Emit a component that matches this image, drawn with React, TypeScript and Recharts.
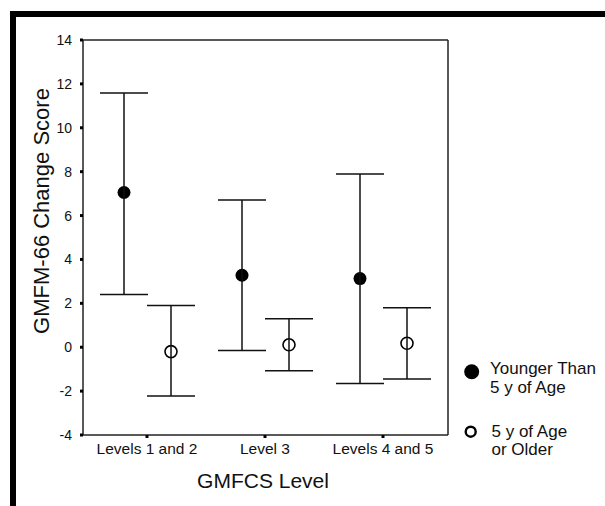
import React from 'react';
import { ComposedChart, Bar, ErrorBar, XAxis, YAxis, Legend, Label } from 'recharts';

const FONT = '"Liberation Sans", Arial, Helvetica, sans-serif';

const levels = ['Levels 1 and 2', 'Level 3', 'Levels 4 and 5'];
const youngerMean = [7.05, 3.28, 3.13];
const youngerLower = [2.4, -0.15, -1.65];
const youngerUpper = [11.58, 6.71, 7.89];
const olderMean = [-0.2, 0.11, 0.18];
const olderLower = [-2.22, -1.07, -1.45];
const olderUpper = [1.9, 1.3, 1.8];
const yTicks = [-4, -2, 0, 2, 4, 6, 8, 10, 12, 14];
const seriesNames = ['Younger Than 5 y of Age', '5 y of Age or Older'];
const legendLines = [
  ['Younger Than', '5 y of Age'],
  ['5 y of Age', 'or Older'],
];
const xTitle = 'GMFCS Level';
const yTitle = 'GMFM-66 Change Score';

const data = levels.map((level, i) => ({
  level,
  younger: youngerMean[i],
  youngerErr: [youngerMean[i] - youngerLower[i], youngerUpper[i] - youngerMean[i]],
  older: olderMean[i],
  olderErr: [olderMean[i] - olderLower[i], olderUpper[i] - olderMean[i]],
}));

const makeDot = (key: string, filled: boolean) => (props: any) => {
  const { x, y, width, height, payload } = props;
  if (x == null || y == null || !payload) return <g />;
  const v = payload[key];
  const h = height || 0;
  const cy = v >= 0 ? Math.min(y, y + h) : Math.max(y, y + h);
  const cx = x + width / 2;
  return filled ? (
    <circle cx={cx} cy={cy} r={6.5} fill="#000" />
  ) : (
    <circle cx={cx} cy={cy} r={6} fill="none" stroke="#000" strokeWidth={1.6} />
  );
};

const LegendContent = () => (
  <svg width={150} height={115} style={{ display: 'block' }}>
    <circle cx={16.7} cy={21.7} r={7.5} fill="#000" />
    <text x={35} y={24} fontSize={17} fontFamily={FONT} fill="#111">
      {legendLines[0][0]}
    </text>
    <text x={35} y={43} fontSize={17} fontFamily={FONT} fill="#111">
      {legendLines[0][1]}
    </text>
    <circle cx={15.7} cy={81.7} r={5} fill="none" stroke="#000" strokeWidth={2.4} />
    <text x={36.5} y={86.7} fontSize={17} fontFamily={FONT} fill="#111">
      {legendLines[1][0]}
    </text>
    <text x={36.5} y={105} fontSize={17} fontFamily={FONT} fill="#111">
      {legendLines[1][1]}
    </text>
  </svg>
);

export default function App() {
  return (
    <div style={{ position: 'absolute', left: 0, top: 0, width: 605, height: 506, background: '#fff' }}>
      <div style={{ position: 'absolute', left: 10, top: 11, width: 595, height: 6, background: '#000' }} />
      <div style={{ position: 'absolute', left: 10, top: 11, width: 6, height: 495, background: '#000' }} />
      <div style={{ position: 'absolute', left: 0, top: 0 }}>
        <ComposedChart
          width={605}
          height={506}
          data={data}
          margin={{ top: 39, right: 156, bottom: 41, left: 23 }}
          barSize={40}
          barGap={7}
        >
          <XAxis
            dataKey="level"
            type="category"
            padding={{ left: 5, right: 6 }}
            interval={0}
            height={30}
            tickSize={3}
            tickMargin={5}
            tickLine={{ stroke: '#000', strokeWidth: 3 }}
            axisLine={{ stroke: '#222', strokeWidth: 1.5 }}
            tick={{ fill: '#111', fontSize: 15.5, fontFamily: FONT }}
          >
            <Label
              content={() => (
                <text x={263} y={488} textAnchor="middle" fontSize={21} fontFamily={FONT} fill="#111">
                  {xTitle}
                </text>
              )}
            />
          </XAxis>
          <XAxis
            xAxisId="top"
            orientation="top"
            dataKey="level"
            type="category"
            height={1}
            tick={false}
            tickLine={false}
            axisLine={{ stroke: '#222', strokeWidth: 1.5 }}
          />
          <YAxis
            type="number"
            domain={[-4, 14]}
            ticks={yTicks}
            interval={0}
            width={60}
            tickSize={3}
            tickMargin={8}
            tickLine={{ stroke: '#000', strokeWidth: 3 }}
            axisLine={{ stroke: '#222', strokeWidth: 1.5 }}
            tick={{ fill: '#111', fontSize: 14, fontFamily: FONT }}
          >
            <Label
              content={() => (
                <text
                  x={41}
                  y={211}
                  transform="rotate(-90 41 211)"
                  textAnchor="middle"
                  dominantBaseline="central"
                  fontSize={22}
                  fontFamily={FONT}
                  fill="#111"
                >
                  {yTitle}
                </text>
              )}
            />
          </YAxis>
          <YAxis
            yAxisId="right"
            orientation="right"
            type="number"
            domain={[-4, 14]}
            width={1}
            tick={false}
            tickLine={false}
            axisLine={{ stroke: '#222', strokeWidth: 1.5 }}
          />
          <Legend
            layout="vertical"
            align="center"
            verticalAlign="middle"
            wrapperStyle={{ left: 455, top: 350, width: 150, height: 115 }}
            content={() => <LegendContent />}
          />
          <Bar
            dataKey="younger"
            name={seriesNames[0]}
            fill="#000"
            isAnimationActive={false}
            shape={makeDot('younger', true)}
            activeBar={false}
          >
            <ErrorBar
              dataKey="youngerErr"
              direction="y"
              width={24}
              stroke="#111"
              strokeWidth={1.5}
              isAnimationActive={false}
            />
          </Bar>
          <Bar
            dataKey="older"
            name={seriesNames[1]}
            fill="#fff"
            isAnimationActive={false}
            shape={makeDot('older', false)}
            activeBar={false}
          >
            <ErrorBar
              dataKey="olderErr"
              direction="y"
              width={24}
              stroke="#111"
              strokeWidth={1.5}
              isAnimationActive={false}
            />
          </Bar>
        </ComposedChart>
      </div>
    </div>
  );
}
